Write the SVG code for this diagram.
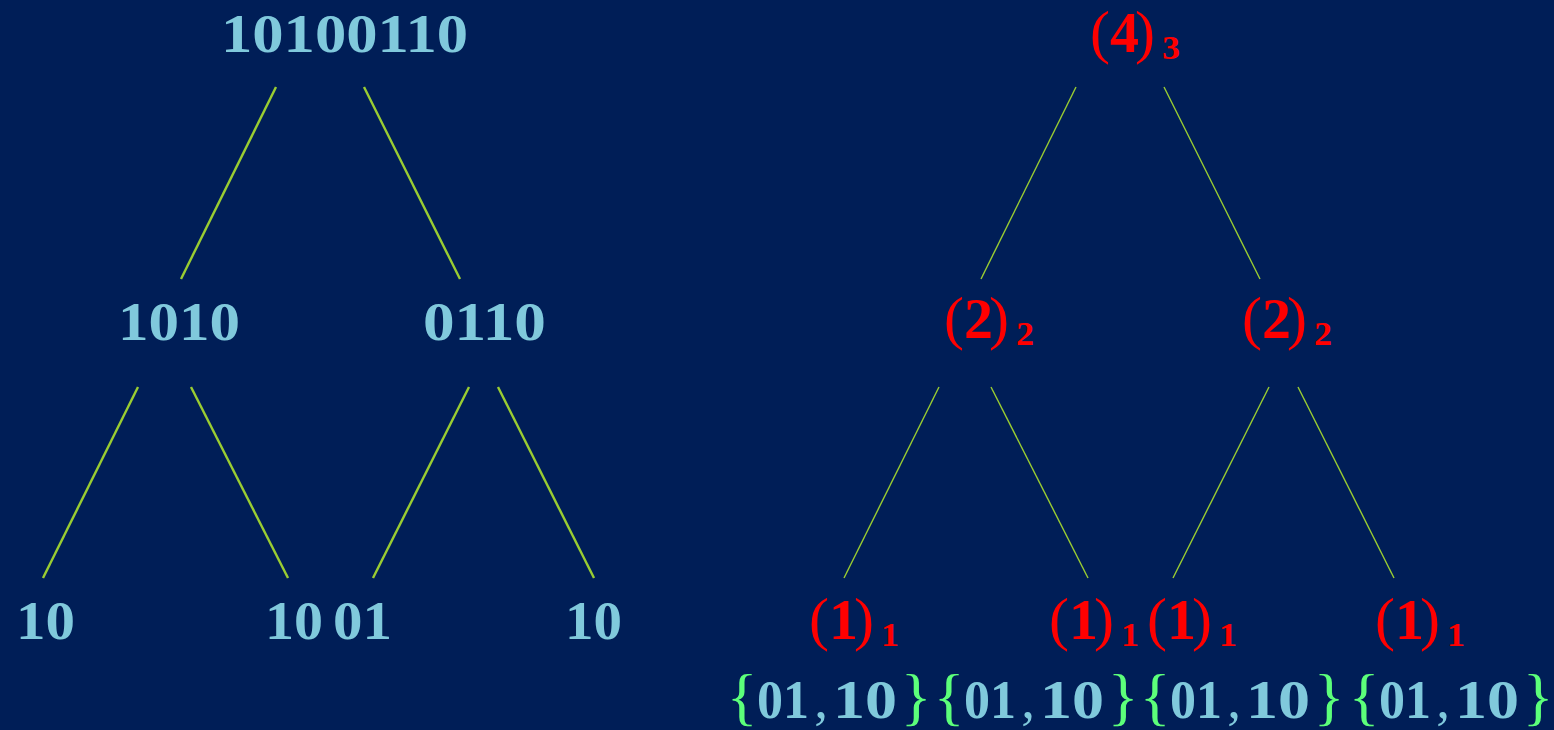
<svg xmlns="http://www.w3.org/2000/svg" width="1554" height="730" viewBox="0 0 1554 730">
  <style>
    .bin { font-family: "Liberation Serif", "Times New Roman", serif; font-weight: bold; font-size: 55px; fill: #80c9dc; }
    .par { font-family: "Liberation Serif", "Times New Roman", serif; font-size: 60px; fill: #ff0000; text-anchor: middle; }
    .num { font-family: "Liberation Serif", "Times New Roman", serif; font-weight: bold; font-size: 56px; fill: #ff0000; }
    .sub { font-family: "Liberation Serif", "Times New Roman", serif; font-weight: bold; font-size: 33px; fill: #ff0000; }
    .brace { font-family: "Liberation Serif", "Times New Roman", serif; font-size: 64px; fill: #5cff7a; text-anchor: middle; }
    .comma { font-family: "Liberation Serif", "Times New Roman", serif; font-size: 55px; fill: #80c9dc; text-anchor: middle; }
    .edgeL { stroke: #9acd32; stroke-width: 2.4; fill: none; }
    .edgeR { stroke: #9acd32; stroke-width: 1.4; fill: none; }
  </style>
  <rect width="1554" height="730" fill="#001e57"/>

  <!-- connectors -->
  <g id="connectors">
    <line class="edgeL" x1="276" y1="87" x2="181" y2="279"/>
    <line class="edgeL" x1="364" y1="87" x2="460" y2="279"/>
    <line class="edgeL" x1="138" y1="387" x2="43" y2="578"/>
    <line class="edgeL" x1="191" y1="387" x2="288" y2="578"/>
    <line class="edgeL" x1="469" y1="387" x2="373" y2="578"/>
    <line class="edgeL" x1="498" y1="387" x2="594" y2="578"/>
    <line class="edgeR" x1="1076" y1="87" x2="981" y2="279"/>
    <line class="edgeR" x1="1164" y1="87" x2="1260" y2="279"/>
    <line class="edgeR" x1="939" y1="387" x2="844" y2="578"/>
    <line class="edgeR" x1="991" y1="387" x2="1088" y2="578"/>
    <line class="edgeR" x1="1269" y1="387" x2="1173" y2="578"/>
    <line class="edgeR" x1="1298" y1="387" x2="1394" y2="578"/>
  </g>

  <!-- binary string tree -->
  <g id="s-root"><text class="bin" x="221" y="52" textLength="247" lengthAdjust="spacingAndGlyphs">10100110</text></g>
  <g id="s-l"><text class="bin" x="118" y="340" textLength="122" lengthAdjust="spacingAndGlyphs">1010</text></g>
  <g id="s-r"><text class="bin" x="423" y="340" textLength="123" lengthAdjust="spacingAndGlyphs">0110</text></g>
  <g id="s-ll"><text class="bin" x="16" y="639" textLength="59" lengthAdjust="spacingAndGlyphs">10</text></g>
  <g id="s-lr"><text class="bin" x="265" y="639" textLength="58" lengthAdjust="spacingAndGlyphs">10</text></g>
  <g id="s-rl"><text class="bin" x="333" y="639" textLength="59" lengthAdjust="spacingAndGlyphs">01</text></g>
  <g id="s-rr"><text class="bin" x="565" y="639" textLength="57" lengthAdjust="spacingAndGlyphs">10</text></g>

  <!-- count tree -->
  <g id="c-root" transform="translate(1091,52)">
    <text class="par" x="9" y="0">(</text><text class="num" x="19" y="0" textLength="29" lengthAdjust="spacingAndGlyphs">4</text><text class="par" x="54" y="0">)</text><text class="sub" x="71" y="7" textLength="18" lengthAdjust="spacingAndGlyphs">3</text>
  </g>
  <g id="c-l" transform="translate(945,338)">
    <text class="par" x="9" y="0">(</text><text class="num" x="19" y="0" textLength="29" lengthAdjust="spacingAndGlyphs">2</text><text class="par" x="54" y="0">)</text><text class="sub" x="71" y="7" textLength="18" lengthAdjust="spacingAndGlyphs">2</text>
  </g>
  <g id="c-r" transform="translate(1243,338)">
    <text class="par" x="9" y="0">(</text><text class="num" x="19" y="0" textLength="29" lengthAdjust="spacingAndGlyphs">2</text><text class="par" x="54" y="0">)</text><text class="sub" x="71" y="7" textLength="18" lengthAdjust="spacingAndGlyphs">2</text>
  </g>
  <g id="c-ll" transform="translate(810,639)">
    <text class="par" x="9" y="0">(</text><text class="num" x="19" y="0" textLength="29" lengthAdjust="spacingAndGlyphs">1</text><text class="par" x="54" y="0">)</text><text class="sub" x="71" y="7" textLength="18" lengthAdjust="spacingAndGlyphs">1</text>
  </g>
  <g id="c-lr" transform="translate(1050,639)">
    <text class="par" x="9" y="0">(</text><text class="num" x="19" y="0" textLength="29" lengthAdjust="spacingAndGlyphs">1</text><text class="par" x="54" y="0">)</text><text class="sub" x="71" y="7" textLength="18" lengthAdjust="spacingAndGlyphs">1</text>
  </g>
  <g id="c-rl" transform="translate(1148,639)">
    <text class="par" x="9" y="0">(</text><text class="num" x="19" y="0" textLength="29" lengthAdjust="spacingAndGlyphs">1</text><text class="par" x="54" y="0">)</text><text class="sub" x="71" y="7" textLength="18" lengthAdjust="spacingAndGlyphs">1</text>
  </g>
  <g id="c-rr" transform="translate(1376,639)">
    <text class="par" x="9" y="0">(</text><text class="num" x="19" y="0" textLength="29" lengthAdjust="spacingAndGlyphs">1</text><text class="par" x="54" y="0">)</text><text class="sub" x="71" y="7" textLength="18" lengthAdjust="spacingAndGlyphs">1</text>
  </g>

  <!-- leaf sets -->
  <g id="set-1" transform="translate(730,718)">
    <text class="brace" x="12" y="0">{</text>
    <text class="bin" x="27" y="0" textLength="52" lengthAdjust="spacingAndGlyphs">01</text>
    <text class="comma" x="91" y="0">,</text>
    <text class="bin" x="103" y="0" textLength="64" lengthAdjust="spacingAndGlyphs">10</text>
    <text class="brace" x="186" y="0">}</text>
  </g>
  <g id="set-2" transform="translate(937,718)">
    <text class="brace" x="12" y="0">{</text>
    <text class="bin" x="27" y="0" textLength="52" lengthAdjust="spacingAndGlyphs">01</text>
    <text class="comma" x="91" y="0">,</text>
    <text class="bin" x="103" y="0" textLength="64" lengthAdjust="spacingAndGlyphs">10</text>
    <text class="brace" x="186" y="0">}</text>
  </g>
  <g id="set-3" transform="translate(1143,718)">
    <text class="brace" x="12" y="0">{</text>
    <text class="bin" x="27" y="0" textLength="52" lengthAdjust="spacingAndGlyphs">01</text>
    <text class="comma" x="91" y="0">,</text>
    <text class="bin" x="103" y="0" textLength="64" lengthAdjust="spacingAndGlyphs">10</text>
    <text class="brace" x="186" y="0">}</text>
  </g>
  <g id="set-4" transform="translate(1352,718)">
    <text class="brace" x="12" y="0">{</text>
    <text class="bin" x="27" y="0" textLength="52" lengthAdjust="spacingAndGlyphs">01</text>
    <text class="comma" x="91" y="0">,</text>
    <text class="bin" x="103" y="0" textLength="64" lengthAdjust="spacingAndGlyphs">10</text>
    <text class="brace" x="186" y="0">}</text>
  </g>
</svg>
